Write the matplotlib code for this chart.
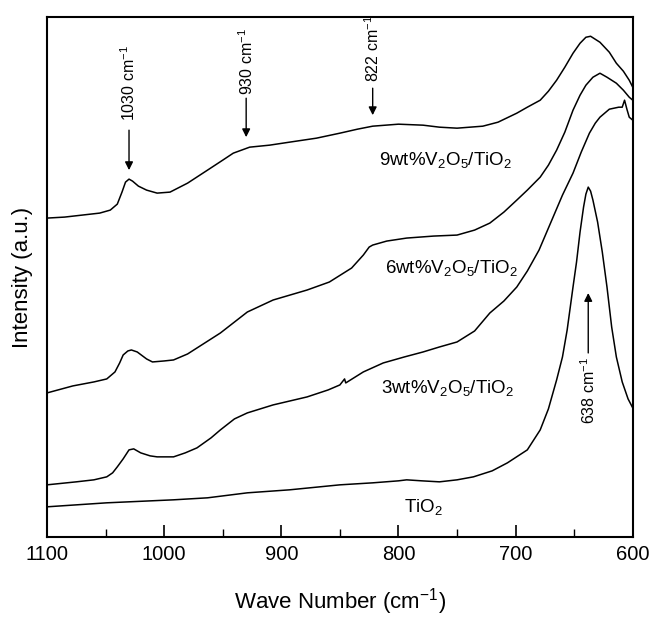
import numpy as np
import matplotlib
matplotlib.use('Agg')
import matplotlib.pyplot as plt
from matplotlib.ticker import MultipleLocator

plt.rcParams['font.family'] = ['Liberation Sans', 'DejaVu Sans']
plt.rcParams['mathtext.default'] = 'regular'

# spectra (wave number, intensity a.u.)
w_9 = [1100, 1085, 1070, 1055, 1046, 1040, 1036, 1033, 1030, 1027, 1022, 1015, 1006,
       995, 980, 963, 950, 941, 927, 910, 893, 870, 850, 835, 822, 800, 779, 765, 750,
       728, 715, 699, 690, 679, 672, 665, 658, 651, 645, 640, 636, 632, 628, 620, 614,
       608, 603, 600]
i_9 = [319, 320, 322, 324, 327, 333, 345, 355, 358, 356, 351, 347, 344,
       345, 354, 367, 377, 384, 390, 392, 395, 399, 404, 408, 411, 413, 412, 410, 409,
       411, 415, 424, 430, 437, 446, 457, 470, 484, 494, 500, 501, 498, 495, 485, 474,
       466, 457, 450]

w_6 = [1100, 1078, 1060, 1049, 1042, 1038, 1035, 1031, 1028, 1023, 1015, 1010, 1000,
       992, 980, 972, 952, 929, 907, 878, 859, 840, 830, 825, 822, 810, 793, 770, 750,
       735, 722, 710, 699, 690, 679, 672, 665, 658, 651, 645, 640, 634, 628, 622, 614,
       608, 603, 600]
i_6 = [144, 151, 155, 158, 165, 174, 182, 186, 187, 185, 178, 175, 176,
       177, 183, 189, 204, 225, 237, 247, 255, 269, 282, 290, 292, 296, 299, 301, 302,
       307, 314, 325, 337, 347, 360, 372, 387, 405, 427, 442, 452, 460, 464, 460, 454,
       447, 440, 437]

w_3 = [1100, 1075, 1060, 1049, 1044, 1040, 1035, 1030, 1026, 1020, 1012, 1006, 992,
       982, 972, 960, 952, 940, 929, 907, 878, 860, 850, 846, 845, 830, 813, 795, 779,
       765, 750, 735, 722, 710, 699, 690, 680, 668, 660, 651, 644, 637, 632, 628, 620,
       612, 609, 607, 605, 603, 600]
i_3 = [52, 55, 57, 60, 64, 70, 78, 87, 88, 84, 81, 80, 80,
       84, 89, 99, 107, 118, 124, 132, 140, 147, 152, 158, 154, 165, 174, 180, 185,
       190, 195, 206, 224, 236, 250, 266, 287, 320, 342, 364, 385, 404, 414, 420, 428,
       430, 430, 437, 428, 420, 417]

w_ti = [1100, 1049, 992, 963, 929, 893, 850, 822, 800, 793, 780, 765, 750, 736, 720,
        707, 690, 679, 672, 665, 660, 656, 651, 648, 645, 642, 640, 638, 636, 634, 630,
        626, 622, 618, 614, 609, 604, 600]
i_ti = [30, 34, 37, 39, 44, 47, 52, 54, 56, 57, 56, 55, 57, 60, 66,
        74, 87, 107, 128, 157, 180, 207, 250, 275, 305, 330, 343, 350, 346, 337, 315,
        285, 250, 210, 180, 155, 138, 129]

labels = ['9wt%V$_2$O$_5$/TiO$_2$', '6wt%V$_2$O$_5$/TiO$_2$',
          '3wt%V$_2$O$_5$/TiO$_2$', 'TiO$_2$']
label_pos = [(760, 377), (755, 269), (758, 149), (779, 30)]

peaks = [1030, 930, 822]
peak_text_y = [454, 476, 489]
peak_arrow = [(407, 367), (439, 400), (449, 422)]

fig = plt.figure(figsize=(6.53, 6.17), dpi=100)
ax = fig.add_axes([0.072, 0.130, 0.897, 0.842])

for w, i in [(w_9, i_9), (w_6, i_6), (w_3, i_3), (w_ti, i_ti)]:
    ax.plot(w, i, color='black', lw=1.1)

for txt, (x, y) in zip(labels, label_pos):
    ax.text(x, y, txt, fontsize=13.5, ha='center', va='center')

for p, ty, (a0, a1) in zip(peaks, peak_text_y, peak_arrow):
    ax.text(p, ty, '%d cm$^{-1}$' % p, rotation=90, fontsize=11.5,
            ha='center', va='center')
    ax.annotate('', xy=(p, a1), xytext=(p, a0),
                arrowprops=dict(arrowstyle='-|>', color='black', lw=1.0,
                                mutation_scale=12, shrinkA=0, shrinkB=0))

# 638 band of TiO2, arrow pointing up
ax.text(638, 146, '638 cm$^{-1}$', rotation=90, fontsize=11.5,
        ha='center', va='center')
ax.annotate('', xy=(638, 244), xytext=(638, 184),
            arrowprops=dict(arrowstyle='-|>', color='black', lw=1.0,
                            mutation_scale=12, shrinkA=0, shrinkB=0))

ax.set_xlim(1100, 600)
ax.set_ylim(0, 520)
ax.xaxis.set_major_locator(MultipleLocator(100))
ax.xaxis.set_minor_locator(MultipleLocator(50))
ax.tick_params(axis='x', which='major', direction='in', length=8.5, width=1.2,
               labelsize=14.5, pad=6, top=False)
ax.tick_params(axis='x', which='minor', direction='in', length=5.5, width=1.0, top=False)
ax.set_yticks([])
for s in ax.spines.values():
    s.set_linewidth(1.5)

ax.set_xlabel('Wave Number (cm$^{-1}$)', fontsize=16, labelpad=16)
ax.set_ylabel('Intensity (a.u.)', fontsize=16, labelpad=10)

fig.savefig('out.png', dpi=100)
